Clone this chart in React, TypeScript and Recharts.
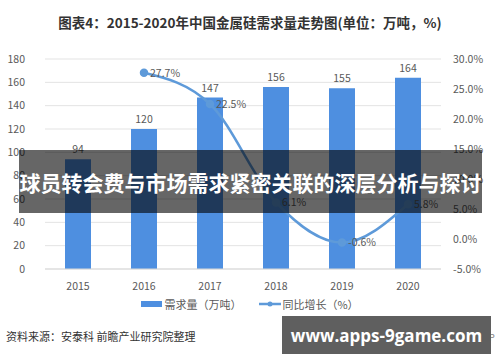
import { ComposedChart, Bar, Line, XAxis, YAxis, CartesianGrid, LabelList } from "recharts";

const years = ["2015", "2016", "2017", "2018", "2019", "2020"];
const demand = [94, 120, 147, 156, 155, 164];
const growth: (number | null)[] = [null, 27.7, 22.5, 6.1, -0.6, 5.8];
const leftTicks = [0, 20, 40, 60, 80, 100, 120, 140, 160, 180];
const rightTicks = [-5, 0, 5, 10, 15, 20, 25, 30];

const BAR_COLOR = "#4e8fe0";
const LINE_COLOR = "#5e9ad9";
const TEXT = "#595959";
const FONT = "'Noto Sans CJK SC', 'Noto Sans', sans-serif";

const data = years.map((y, i) => ({ year: y, demand: demand[i], growth: growth[i] }));

function LegendBox() {
  return (
    <div style={{ position: "absolute", top: 296, left: 0, width: 500, display: "flex", justifyContent: "center", alignItems: "center", fontSize: 11, color: TEXT }}>
      <span style={{ display: "inline-block", width: 21, height: 6, background: BAR_COLOR, marginRight: 2 }} />
      <span style={{ marginRight: 18 }}>需求量（万吨）</span>
      <svg width={22} height={8} style={{ marginRight: 1 }}>
        <line x1={0} y1={4} x2={22} y2={4} stroke={LINE_COLOR} strokeWidth={2.5} />
        <circle cx={11} cy={4} r={2.5} fill={LINE_COLOR} />
      </svg>
      <span>同比增长（%）</span>
    </div>
  );
}

export default function App() {
  return (
    <div style={{ position: "absolute", top: 0, left: 0, width: 500, height: 362, background: "#fff", fontFamily: FONT, overflow: "hidden" }}>
      <div style={{ position: "absolute", top: 12, left: 0, width: 500, textAlign: "center", fontSize: 13.5, fontWeight: "bold", color: "#333" }}>
        图表4：2015-2020年中国金属硅需求量走势图(单位：万吨，%)
      </div>
      <ComposedChart width={500} height={362} data={data} margin={{ top: 59, right: 0, bottom: 63, left: 0 }}>
        <CartesianGrid yAxisId="left" vertical={false} stroke="#e3e3e3" />
        <XAxis dataKey="year" axisLine={{ stroke: "#d9d9d9" }} tickLine={false} tick={{ fill: TEXT, fontSize: 10.5 }} height={30} tickMargin={8} />
        <YAxis yAxisId="left" domain={[0, 180]} ticks={leftTicks} axisLine={false} tickLine={false} width={45} tick={{ fill: TEXT, fontSize: 10.5 }} tickMargin={14} />
        <YAxis yAxisId="right" orientation="right" domain={[-5, 30]} ticks={rightTicks} axisLine={false} tickLine={false} width={59} tick={{ fill: TEXT, fontSize: 10.5 }} tickMargin={6} tickFormatter={(v: number) => `${v.toFixed(1)}%`} />
        <Bar yAxisId="left" dataKey="demand" fill={BAR_COLOR} barSize={26} isAnimationActive={false}>
          <LabelList dataKey="demand" position="top" fill={TEXT} fontSize={10.5} offset={6} />
        </Bar>
        <Line yAxisId="right" dataKey="growth" type="monotone" stroke={LINE_COLOR} strokeWidth={2.5} dot={{ r: 3, fill: LINE_COLOR, stroke: LINE_COLOR }} isAnimationActive={false} connectNulls>
          <LabelList dataKey="growth" position="right" fill={TEXT} fontSize={10.5} offset={6} formatter={(v: any) => (v == null ? "" : `${Number(v).toFixed(1)}%`)} />
        </Line>
      </ComposedChart>
      <LegendBox />
      <div style={{ position: "absolute", top: 328, left: 6, fontSize: 11, color: "#333" }}>资料来源：安泰科 前瞻产业研究院整理</div>
      <div style={{ position: "absolute", top: 330, left: 420, fontSize: 9.5, color: "#888", whiteSpace: "nowrap" }}>前瞻经济学人APP</div>
      <div style={{ position: "absolute", top: 150, left: 19, width: 463, height: 63, background: "rgba(0,0,0,0.6)", display: "flex", alignItems: "center", justifyContent: "center", color: "#fff", fontWeight: "bold", fontSize: 21, whiteSpace: "nowrap" }}>
        球员转会费与市场需求紧密关联的深层分析与探讨
      </div>
      <div style={{ position: "absolute", top: 316, left: 282, width: 209, height: 38, background: "#5f5f5f", display: "flex", alignItems: "center", justifyContent: "center", color: "#fff", fontWeight: "bold", fontSize: 17, whiteSpace: "nowrap", fontFamily: "'Open Sans', 'DejaVu Sans', sans-serif" }}>
        www.apps-9game.com
      </div>
    </div>
  );
}
